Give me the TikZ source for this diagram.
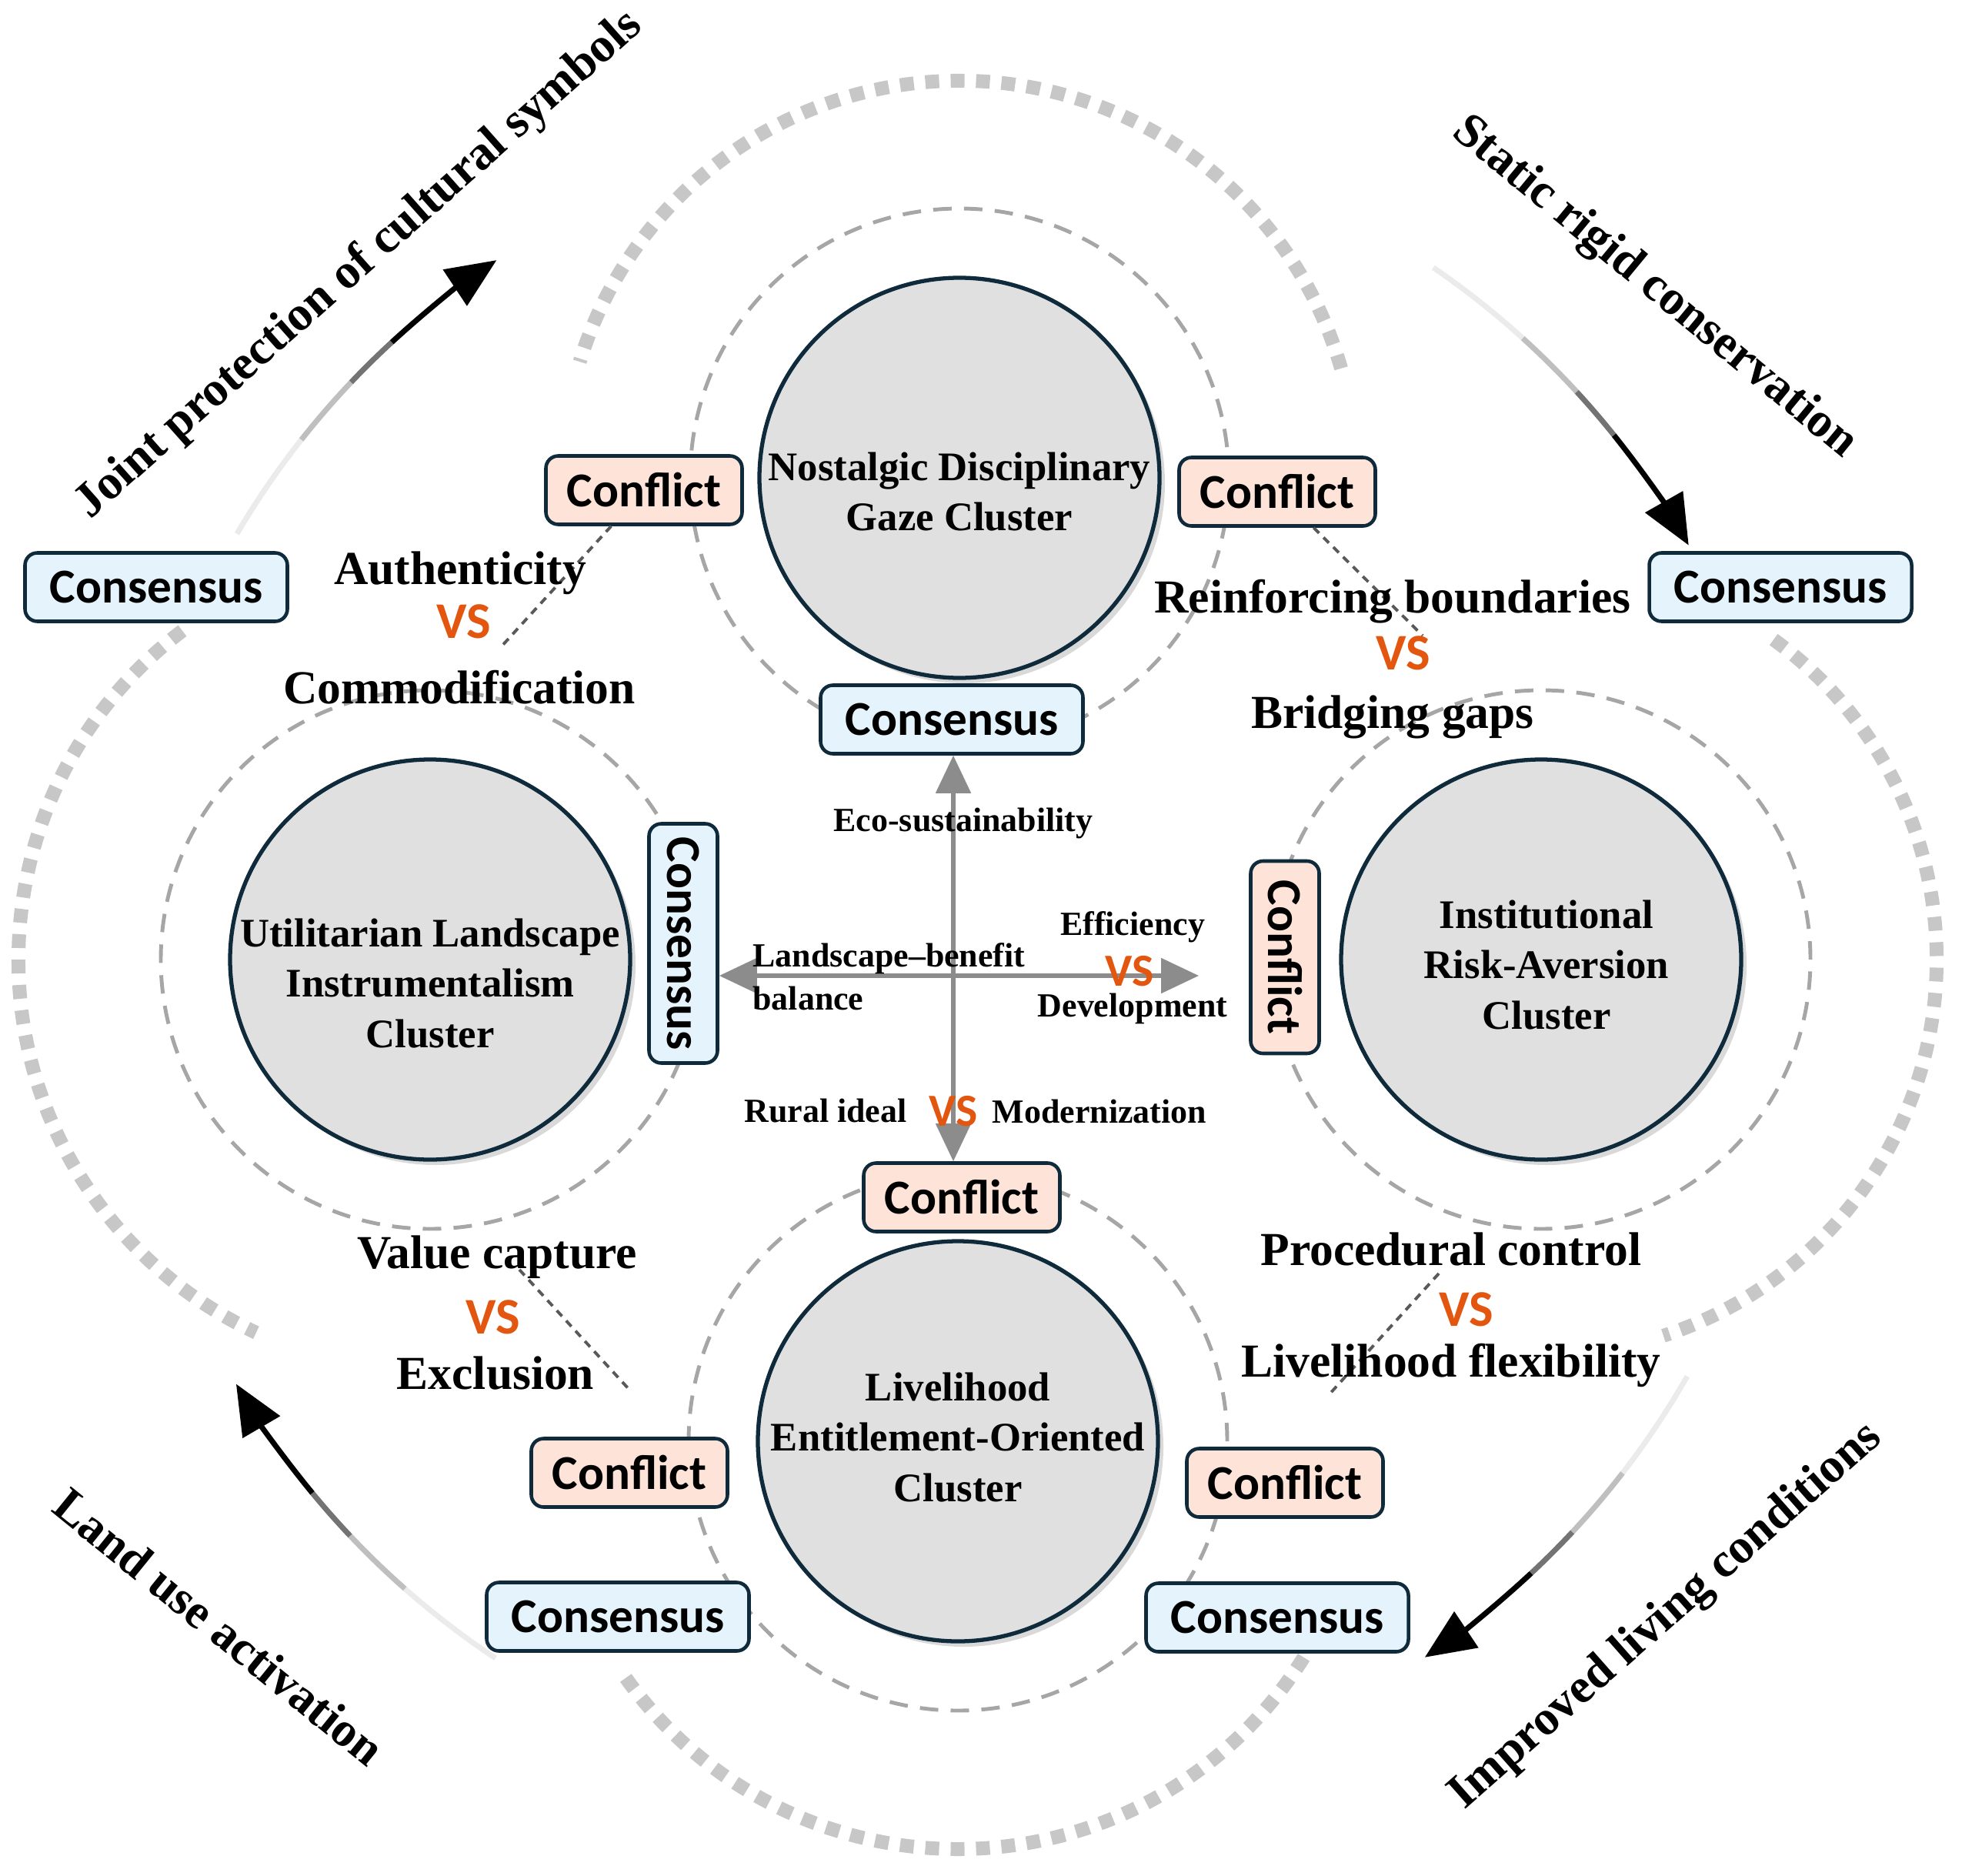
\documentclass[tikz,border=0pt]{standalone}
\usepackage{fontspec}
\setmainfont{Liberation Serif}
\newfontfamily\tagfont{Carlito}
\usepackage{tikz}
\usetikzlibrary{calc,positioning,arrows.meta,shadows}

\definecolor{navy}{HTML}{0E2A3B}
\definecolor{conflictfill}{HTML}{FDE3D8}
\definecolor{consensusfill}{HTML}{E5F3FC}
\definecolor{vsorange}{HTML}{E2560F}
\definecolor{clusterfill}{HTML}{E0E0E0}
\definecolor{axisgray}{HTML}{8C8C8C}

% faded flow arrow round the middle: start angle, end angle
\newcommand{\flowarc}[2]{%
  \draw[flow, black!8] ($(mid)+(#1:10.9)$) arc[start angle=#1, end angle={#1+0.3*(#2-#1)}, radius=10.9];
  \draw[flow, black!25] ($(mid)+({#1+0.3*(#2-#1)}:10.9)$) arc[start angle={#1+0.3*(#2-#1)}, end angle={#1+0.5*(#2-#1)}, radius=10.9];
  \draw[flow, black!55] ($(mid)+({#1+0.5*(#2-#1)}:10.9)$) arc[start angle={#1+0.5*(#2-#1)}, end angle={#1+0.65*(#2-#1)}, radius=10.9];
  \draw[flow, black, -{Triangle[length=6.5mm,width=5.5mm]}] ($(mid)+({#1+0.65*(#2-#1)}:10.9)$) arc[start angle={#1+0.65*(#2-#1)}, end angle=#2, radius=10.9];
}

\begin{document}
\begin{tikzpicture}[
  cluster/.style={circle, draw=navy, line width=1.5pt, fill=clusterfill, minimum size=5.2cm, inner sep=0pt,
    drop shadow={shadow xshift=0.07cm, shadow yshift=-0.07cm, opacity=0.3}},
  clab/.style={align=center, font=\fontsize{15}{18.5}\selectfont\bfseries},
  ring/.style={draw=black!35, line width=1.4pt, dash pattern=on 0.24cm off 0.16cm},
  outer/.style={draw=black!22, line width=0.18cm, dash pattern=on 0.18cm off 0.15cm},
  tag/.style={draw=navy, line width=1.3pt, rounded corners=0.16cm, minimum height=0.89cm, inner sep=0pt,
    font=\tagfont\fontsize{18}{20}\selectfont\bfseries},
  conflict/.style={tag, fill=conflictfill, minimum width=2.55cm},
  consensus/.style={tag, fill=consensusfill, minimum width=3.41cm},
  big/.style={font=\fontsize{17.5}{20}\selectfont\bfseries},
  small/.style={font=\fontsize{12.5}{15}\selectfont\bfseries},
  vs/.style={text=vsorange, font=\tagfont\fontsize{19}{21}\selectfont\bfseries},
  svs/.style={text=vsorange, font=\tagfont\fontsize{17}{19}\selectfont\bfseries},
  theme/.style={font=\fontsize{18}{21}\selectfont\bfseries},
  axis/.style={draw=axisgray, line width=1.5pt, {Triangle[length=4.9mm,width=4.5mm]}-{Triangle[length=4.9mm,width=4.5mm]}},
  link/.style={draw=black!65, line width=1.1pt, dash pattern=on 0.1cm off 0.08cm},
  flow/.style={line width=2pt},
]
\useasboundingbox (0,0) rectangle (25.5,-24.37);

% --- centres ---
\coordinate (mid) at (12.47,-12.47);
\coordinate (cT) at (12.47,-6.21);
\coordinate (cL) at (5.59,-12.47);
\coordinate (cR) at (20.03,-12.47);
\coordinate (cB) at (12.45,-18.73);

% --- outer square-dashed arcs ---
\draw[outer] ($(cT)+(16:5.16)$) arc[start angle=16, end angle=163, radius=5.16];
\draw[outer] ($(cR)+(54:5.14)$) arc[start angle=54, end angle=-72, radius=5.14];
\draw[outer] ($(cB)+(-32:5.30)$) arc[start angle=-32, end angle=-146, radius=5.30];
\draw[outer] ($(cL)+(127:5.35)$) arc[start angle=127, end angle=245, radius=5.35];

% --- dashed rings ---
\draw[ring] (cT) circle[radius=3.5];
\draw[ring] (cL) circle[radius=3.5];
\draw[ring] (cR) circle[radius=3.5];
\draw[ring] (cB) circle[radius=3.5];

% --- flow arrows ---
\flowarc{149.5}{123.5}
\flowarc{55.6}{29.6}
\flowarc{-29.8}{-56.3}
\flowarc{236.4}{210.4}

\node[theme, rotate=41.6] (tJoint) at (4.67,-3.45) {Joint protection of cultural symbols};
\node[theme, rotate=-39.5] (tStatic) at (21.50,-3.74) {Static rigid conservation};
\node[theme, rotate=41.4] (tImproved) at (21.66,-21.01) {Improved living conditions};
\node[theme, rotate=-39] (tLand) at (2.85,-21.14) {Land use activation};

% --- clusters ---
\node[cluster] (top) at (cT) {};
\node[cluster] (left) at (cL) {};
\node[cluster] (right) at (cR) {};
\node[cluster] (bottom) at (cB) {};
\node[clab] (topT) at (12.47,-6.39) {Nostalgic Disciplinary\\Gaze Cluster};
\node[clab] (leftT) at (5.59,-12.78) {Utilitarian Landscape\\Instrumentalism\\Cluster};
\node[clab] (rightT) at (20.10,-12.54) {Institutional\\Risk-Aversion\\Cluster};
\node[clab] (bottomT) at (12.45,-18.68) {Livelihood\\Entitlement-Oriented\\Cluster};

% --- tags ---
\node[conflict] (conTL) at (8.37,-6.37) {Conflict};
\node[conflict] (conTR) at (16.60,-6.39) {Conflict};
\node[consensus] (csOL) at (2.03,-7.63) {Consensus};
\node[consensus] (csOR) at (23.14,-7.63) {Consensus};
\node[consensus] (csT) at (12.37,-9.35) {Consensus};
\node[consensus, rotate=-90, minimum width=3.11cm] (csL) at (8.88,-12.26) {Consensus};
\node[conflict, rotate=-90, minimum width=2.50cm] (conR) at (16.70,-12.44) {Conflict};
\node[conflict] (conB) at (12.50,-15.56) {Conflict};
\node[conflict] (conBL) at (8.18,-19.14) {Conflict};
\node[conflict] (conBR) at (16.70,-19.27) {Conflict};
\node[consensus] (csBL) at (8.03,-21.01) {Consensus};
\node[consensus] (csBR) at (16.60,-21.02) {Consensus};

% --- central axes ---
\coordinate (ax) at (12.39,-12.68);
\coordinate (axE) at (15.58,-12.68);
\draw[axis] (ax |- csT.south) -- (ax |- conB.north);
\draw[axis] (csL.north |- ax) -- (axE);

% --- dashed links ---
\coordinate (lkTL) at (6.50,-8.42);
\coordinate (lkTR) at (18.49,-8.26);
\coordinate (lkBLa) at (6.75,-16.50);
\coordinate (lkBLb) at (8.18,-18.06);
\coordinate (lkBRa) at (18.70,-16.55);
\coordinate (lkBRb) at (17.25,-18.15);
\draw[link] (conTL) -- (lkTL);
\draw[link] (conTR) -- (lkTR);
\draw[link] (lkBLa) -- (lkBLb);
\draw[link] (lkBRa) -- (lkBRb);

% --- tensions ---
\node[big] (authA) at (5.98,-7.45) {Authenticity};
\node[vs] (authV) at (6.03,-8.08) {VS};
\node[big] (authB) at (5.97,-8.93) {Commodification};
\node[big] (bndA) at (18.10,-7.82) {Reinforcing boundaries};
\node[vs] (bndV) at (18.24,-8.49) {VS};
\node[big] (bndB) at (18.10,-9.32) {Bridging gaps};
\node[big] (valA) at (6.46,-16.34) {Value capture};
\node[vs] (valV) at (6.41,-17.12) {VS};
\node[big] (valB) at (6.44,-17.85) {Exclusion};
\node[big] (procA) at (18.86,-16.24) {Procedural control};
\node[vs] (procV) at (19.06,-17.02) {VS};
\node[big] (procB) at (18.86,-17.74) {Livelihood flexibility};

% --- axis labels ---
\node[small] (eco) at (12.52,-10.70) {Eco-sustainability};
\node[small] (effA) at (14.72,-12.05) {Efficiency};
\node[svs] (effV) at (14.68,-12.62) {VS};
\node[small] (effB) at (14.72,-13.11) {Development};
\node[small, anchor=west] (lbA) at (9.66,-12.46) {Landscape--benefit};
\node[small, anchor=west] (lbB) at (9.66,-12.97) {balance};
\node[small] (rurA) at (10.73,-14.44) {Rural ideal};
\node[svs] (rurV) at (12.39,-14.44) {VS};
\node[small] (rurB) at (14.29,-14.44) {Modernization};

\end{tikzpicture}
\end{document}
